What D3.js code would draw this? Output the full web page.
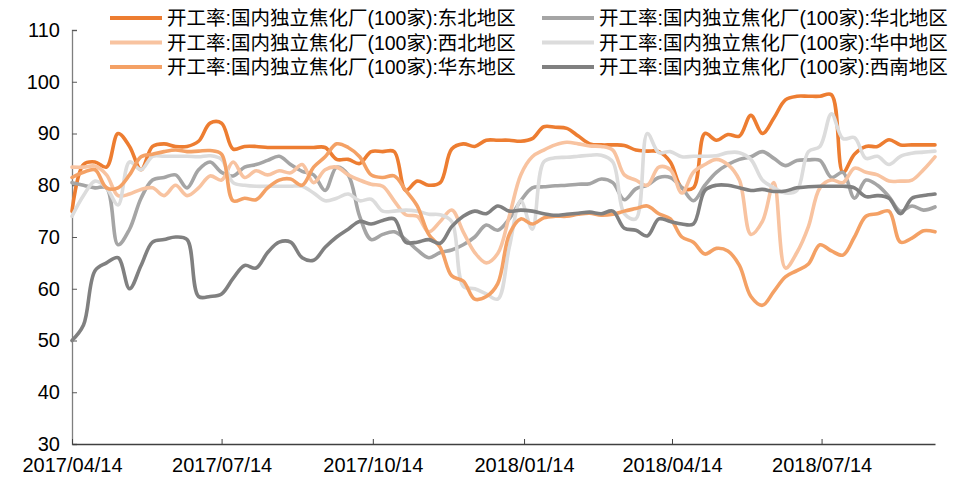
<!DOCTYPE html>
<html>
<head>
<meta charset="utf-8">
<script src="https://cdn.jsdelivr.net/npm/d3@7"></script>
<style>
  body { margin: 0; background: #fff; }
  text { font-family: "Liberation Sans", Arial, "Noto Sans CJK SC", sans-serif; }
</style>
</head>
<body>
<div class="chart"></div>
<script>
// weekly data, every Friday from 2017/04/14
var startDate = new Date(2017, 3, 14);
var endDate = new Date(2018, 8, 21);

var seriesNames = [
  "开工率:国内独立焦化厂(100家):东北地区",
  "开工率:国内独立焦化厂(100家):华北地区",
  "开工率:国内独立焦化厂(100家):西北地区",
  "开工率:国内独立焦化厂(100家):华中地区",
  "开工率:国内独立焦化厂(100家):华东地区",
  "开工率:国内独立焦化厂(100家):西南地区"
];

var dongbei = [75, 84, 84.5, 83.5, 90, 87.5, 83, 87.5, 88, 87.5, 87.5,
  88.5, 92, 92, 87, 87.5, 87.5, 87.3, 87.3, 87.3, 87.3, 87.3,
  87.3, 85, 85, 84.2, 86.5, 86.5, 86.5, 79, 80.8, 80, 80.5,
  87, 88, 87.5, 88.7, 88.7, 88.7, 88.5, 89, 91.3, 91.2,
  91, 89.5, 88, 87.8, 87.8, 87.7, 86.8, 86.6, 86.5, 84.5, 79.5,
  79.5, 90, 88.7, 89.8, 89.5, 93.5, 90, 93, 96.5, 97.2, 97.2,
  97.2, 97.5, 82.5, 86, 87.5, 87.5, 88.8, 87.8, 87.8, 87.8, 87.8];

var huabei = [80.5, 80, 79.5, 79.5, 68.5, 71.5, 77.5, 81, 81.5, 82, 79.5,
  83, 84.5, 82.5, 81.8, 83.5, 84, 84.8, 85.6, 84, 82.7, 82,
  79, 83.5, 82, 74, 69.5, 70.5, 71, 69.5, 67.5, 66, 67,
  67.5, 68.5, 70, 72.3, 71.3, 73.5, 77, 79.5, 79.7, 79.9,
  80, 80.2, 80.3, 81.2, 80.5, 77.2, 79.3, 80, 81.5, 81.5, 79.5,
  77, 80, 82.5, 84, 85, 85.5, 86.5, 85.2, 83.8, 84.8, 84.9,
  84.8, 81.5, 82.5, 77.5, 81, 80, 77.8, 75, 76, 75.2, 75.8];

var xibei = [83.5, 83.5, 83.7, 82, 78, 78.3, 79.2, 79.5, 78, 80, 78,
  79.5, 81.8, 81, 84.5, 81.5, 82.8, 82, 82.8, 82.4, 84, 80.5,
  83, 83.5, 82, 81, 80.2, 79.8, 77, 74.3, 74, 71, 73,
  75.2, 71, 67, 65, 66.8, 74, 82, 85.5, 86.8, 87.8,
  88.3, 88, 87.6, 87.5, 86.8, 82, 81, 80, 83.5, 83, 78.5,
  82.5, 84, 85, 84, 81, 70.5, 73, 80.5, 64, 67, 72,
  79.5, 81, 80.5, 83.3, 82.5, 82, 80.8, 80.8, 81, 83, 85.5];

var huazhong = [74, 78, 80.8, 79.5, 76.2, 84.5, 83, 85.6, 85.6, 85.6, 85.6,
  85.5, 85.7, 85, 80.5, 80, 79.8, 79.8, 79.8, 79.8, 79.8, 78.5,
  77, 77.5, 78.3, 77, 77.3, 75, 75, 75.2, 75, 74.4, 74.3,
  73, 60.5, 60, 59, 58, 68, 77, 71.5, 84.5, 85.3,
  85.4, 85.6, 85.8, 85.8, 84.5, 74.5, 73.5, 90, 86.3, 86.5, 85.5,
  85.6, 85.6, 85.7, 86.3, 86.3, 85, 81, 79.5, 78.5, 79, 86.5,
  87.5, 93.8, 89, 89.2, 85.2, 85.6, 84, 85.6, 86.2, 86.4, 86.6];

var huadong = [81.5, 82.5, 83, 79.5, 79.5, 82, 85.5, 86, 86.5, 86.8, 86.5,
  86.6, 86.7, 86, 77, 77.5, 77.2, 79.5, 81, 81.2, 80, 83.5,
  85.5, 88, 87.3, 85.5, 82, 81.5, 81.8, 79, 76, 70.5, 68,
  62.5, 61.5, 58, 58.5, 61, 70.5, 73.5, 72.5, 73.7, 74,
  74, 74.4, 74.6, 74.2, 74.4, 75, 75.5, 76, 74.5, 73.5, 70,
  69, 66.7, 67.8, 67.3, 64.5, 58.5, 56.8, 59.5, 62.3, 63.5, 64.8,
  68.5, 67.3, 66.5, 70, 74, 74.5, 75, 69, 69.8, 71.2, 71];

var xinan = [50, 53, 63.5, 65, 66, 60, 64.5, 69, 69.5, 70, 69.5,
  58.5, 58.5, 59, 62, 64.5, 64, 67, 69, 69, 66, 65.5,
  68, 70, 71.5, 73, 72.5, 73.2, 73.5, 69, 69, 69.5, 68.8,
  72, 74, 75, 74.5, 76, 75, 75.2, 75, 74.5, 74.2,
  74.4, 74.6, 74.8, 74.5, 75, 71.7, 71.3, 70.2, 73.5, 73, 72.5,
  72.5, 79, 80, 80, 79.5, 79, 79.2, 78.8, 78.9, 79.5, 79.7,
  79.8, 79.8, 79.8, 79.5, 77.8, 78, 77.5, 74.5, 77.5, 78, 78.3];

var yTicks = [30, 40, 50, 60, 70, 80, 90, 100, 110];
var xTickLabels = ["2017/04/14", "2017/07/14", "2017/10/14", "2018/01/14", "2018/04/14", "2018/07/14"];

var colors = ["#ED7D31", "#A5A5A5", "#F8C3A0", "#DCDCDC", "#F4A165", "#808080"];

var svgWidth = 958;
var svgHeight = 481;

var plot = { left: 72, right: 935, top: 30, bottom: 444 };

var svg = d3.select(".chart")
  .append("svg")
  .attr("width", svgWidth)
  .attr("height", svgHeight);

var parseDate = d3.timeParse("%Y/%m/%d");
var dates = d3.timeFriday.range(startDate, d3.timeDay.offset(endDate, 1));

var allSeries = [dongbei, huabei, xibei, huazhong, huadong, xinan];

var xScale = d3.scaleTime()
  .domain([startDate, endDate])
  .range([plot.left, plot.right]);

var yScale = d3.scaleLinear()
  .domain([30, 110])
  .range([plot.bottom, plot.top]);

// y axis
var leftAxis = d3.axisLeft(yScale)
  .tickValues(yTicks)
  .tickSize(-5)
  .tickPadding(12);

var yAxisG = svg.append("g")
  .attr("transform", `translate(${plot.left}, 0)`)
  .call(leftAxis);
yAxisG.select(".domain").attr("stroke", "#7f7f7f").attr("stroke-width", 1.3);
yAxisG.selectAll(".tick line").attr("stroke", "#595959");
yAxisG.selectAll(".tick text")
  .attr("font-size", "20px")
  .attr("fill", "#000");

// x axis
var bottomAxis = d3.axisBottom(xScale)
  .tickValues(xTickLabels.map(parseDate))
  .tickFormat(d3.timeFormat("%Y/%m/%d"))
  .tickSize(-5)
  .tickSizeOuter(0)
  .tickPadding(14);

var xAxisG = svg.append("g")
  .attr("transform", `translate(0, ${plot.bottom})`)
  .call(bottomAxis);
xAxisG.select(".domain").attr("stroke", "#404040").attr("stroke-width", 1.3);
xAxisG.selectAll(".tick line").attr("stroke", "#404040");
xAxisG.selectAll(".tick text")
  .attr("font-size", "20px")
  .attr("fill", "#000");

// lines
var line = d3.line()
  .x(function(d, i) { return xScale(dates[i]); })
  .y(function(d) { return yScale(d); })
  .curve(d3.curveCatmullRom.alpha(0.5));

svg.append("g")
  .selectAll("path")
  .data(allSeries)
  .enter()
  .append("path")
  .attr("d", line)
  .attr("fill", "none")
  .attr("stroke", function(d, i) { return colors[i]; })
  .attr("stroke-width", 3.6)
  .attr("stroke-linejoin", "round")
  .attr("stroke-linecap", "round");

// legend, two columns
var legend = svg.append("g")
  .selectAll("g")
  .data(seriesNames)
  .enter()
  .append("g")
  .attr("transform", function(d, i) {
    var col = i % 2;
    var row = Math.floor(i / 2);
    return `translate(${col === 0 ? 110 : 542}, ${18 + row * 24.5})`;
  });

legend.append("line")
  .attr("x1", 0)
  .attr("x2", 52)
  .attr("stroke", function(d, i) { return colors[i]; })
  .attr("stroke-width", 4);

legend.append("text")
  .attr("x", 57)
  .attr("dy", "0.36em")
  .attr("font-size", "19.5px")
  .attr("fill", "#000")
  .text(function(d) { return d; });
</script>
</body>
</html>
